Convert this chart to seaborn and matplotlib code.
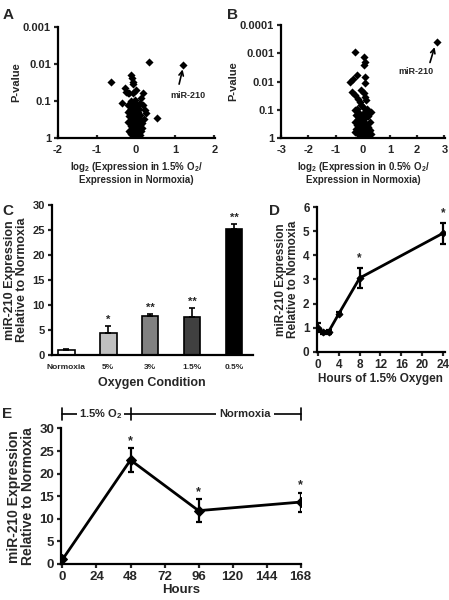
import matplotlib
matplotlib.use('Agg')
import matplotlib.pyplot as plt
import seaborn as sns
import pandas as pd

# ---------------- data ----------------
# Panel A: log2 ratio (1.5% O2 / normoxia) and p-value per miRNA
a_log2 = [1.21, 0.33, -0.63, -0.12, -0.11, -0.08, -0.07, -0.29, -0.25, -0.20,
          -0.17, -0.08, 0.00, 0.17, 0.13, -0.35, -0.21, -0.08, -0.04, 0.17,
          0.22, 0.26, 0.53, -0.12, -0.05, 0.02, 0.08, -0.15, -0.02, 0.05,
          -0.10, 0.10, -0.18, 0.00, -0.06, 0.06, -0.13, 0.12, -0.02, -0.20,
          0.04, -0.08, 0.09, -0.14, 0.00, -0.04, 0.14, -0.10, 0.05, -0.17,
          -0.02, 0.08, -0.07, 0.02, -0.12, 0.11, -0.03, 0.04, -0.08, 0.00,
          0.06, -0.05, 0.15, 0.20, -0.22, 0.10, -0.12, 0.00, -0.06, 0.02,
          -0.15, 0.12]
a_pval = [0.0105, 0.0087, 0.031, 0.020, 0.024, 0.030, 0.034, 0.045, 0.056, 0.060,
          0.062, 0.060, 0.050, 0.062, 0.081, 0.115, 0.129, 0.115, 0.093, 0.129,
          0.17, 0.21, 0.29, 0.14, 0.15, 0.13, 0.16, 0.18, 0.19, 0.20,
          0.22, 0.24, 0.25, 0.26, 0.28, 0.30, 0.32, 0.33, 0.35, 0.37,
          0.39, 0.42, 0.44, 0.47, 0.50, 0.52, 0.55, 0.58, 0.60, 0.63,
          0.66, 0.70, 0.74, 0.78, 0.80, 0.84, 0.88, 0.92, 0.95, 0.98,
          0.97, 0.85, 0.40, 0.30, 0.20, 0.11, 0.10, 0.23, 0.40, 0.55,
          0.70, 0.65]

# Panel B: log2 ratio (0.5% O2 / normoxia) and p-value per miRNA
b_log2 = [2.73, -0.29, 0.05, 0.07, 0.03, -0.21, -0.35, -0.48, 0.10, 0.08,
          -0.05, -0.41, -0.29, -0.16, 0.13, -0.05, 0.32, 0.27, 0.05, 0.08,
          -0.10, 0.00, -0.20, 0.15, -0.30, 0.10, -0.12, 0.02, -0.25, 0.20,
          -0.05, 0.08, -0.18, 0.00, 0.25, -0.30, -0.08, 0.12, -0.20, 0.04,
          -0.12, 0.18, -0.02, -0.25, 0.10, -0.10, 0.05, -0.18, 0.15, 0.00,
          -0.08, 0.20, -0.15, 0.06, -0.03, 0.12, -0.10, 0.02, 0.30, -0.28,
          0.22, -0.05, 0.08]
b_pval = [0.00039, 0.00088, 0.0013, 0.0020, 0.0026, 0.0059, 0.0078, 0.0102, 0.0068, 0.0115,
          0.020, 0.023, 0.030, 0.040, 0.045, 0.068, 0.117, 0.52, 0.025, 0.035,
          0.055, 0.080, 0.090, 0.095, 0.10, 0.12, 0.13, 0.14, 0.15, 0.17,
          0.18, 0.20, 0.22, 0.24, 0.26, 0.28, 0.30, 0.32, 0.35, 0.37,
          0.40, 0.42, 0.45, 0.48, 0.50, 0.55, 0.58, 0.62, 0.65, 0.68,
          0.72, 0.75, 0.78, 0.80, 0.85, 0.88, 0.90, 0.95, 0.70, 0.60,
          0.55, 0.98, 0.98]

# Panel C: miR-210 by oxygen condition
c_cond = ['Normoxia', '5%', '3%', '1.5%', '0.5%']
c_mean = [1.0, 4.4, 7.9, 7.7, 25.3]
c_err = [0.3, 1.5, 0.3, 1.7, 0.9]
c_star = ['', '*', '**', '**', '**']
c_colors = ['white', '#c0c0c0', '#808080', '#404040', 'black']

# Panel D: time course in 1.5% O2
d_hours = [0, 1, 2, 4, 8, 24]
d_mean = [1.0, 0.8, 0.82, 1.58, 3.06, 4.92]
d_err = [0.2, 0.05, 0.08, 0.05, 0.42, 0.44]
d_star = ['', '', '', '', '*', '*']

# Panel E: 48 h 1.5% O2 then return to normoxia
e_hours = [0, 48, 96, 168]
e_mean = [1.0, 23.0, 11.8, 13.7]
e_err = [0.3, 2.6, 2.5, 2.1]
e_star = ['', '*', '*', '*']

# ---------------- style ----------------
sns.set_style('ticks')
plt.rcParams['font.family'] = ['Liberation Sans', 'DejaVu Sans']
plt.rcParams['font.weight'] = 'bold'
plt.rcParams['axes.labelweight'] = 'bold'
plt.rcParams['mathtext.fontset'] = 'custom'
plt.rcParams['mathtext.bf'] = 'Liberation Sans:bold'
plt.rcParams['mathtext.rm'] = 'Liberation Sans:bold'
plt.rcParams['mathtext.default'] = 'bf'
plt.rcParams['axes.linewidth'] = 1.6
plt.rcParams['xtick.major.width'] = 1.6
plt.rcParams['ytick.major.width'] = 1.6

fig = plt.figure(figsize=(4.49, 6), dpi=100)


def clean(ax):
    sns.despine(ax=ax)
    ax.spines['left'].set_color('black')
    ax.spines['bottom'].set_color('black')


def volcano(ax, x, p, xlim, xticks, ylim, yticks, xlabel, arrow, label_xy):
    df = pd.DataFrame({'x': x, 'p': p})
    sns.scatterplot(data=df, x='x', y='p', marker='D', s=17, color='black',
                    edgecolor='black', linewidth=0, ax=ax, legend=False, zorder=3)
    ax.set_yscale('log')
    ax.set_ylim(*ylim)
    ax.set_xlim(*xlim)
    ax.set_xticks(xticks)
    ax.set_xticklabels([str(t) for t in xticks], fontsize=8)
    ax.set_yticks(yticks)
    ax.minorticks_off()
    ax.tick_params(axis='x', direction='in', length=2.5, pad=5)
    ax.tick_params(axis='y', direction='out', length=3, pad=2)
    ax.set_xlabel(xlabel, fontsize=7, linespacing=1.1)
    ax.set_ylabel('P-value', fontsize=8, labelpad=1)
    ax.annotate('', xy=arrow[0], xytext=arrow[1],
                arrowprops=dict(arrowstyle='->', color='black', lw=1.2,
                                shrinkA=0, shrinkB=0, mutation_scale=8))
    ax.text(label_xy[0], label_xy[1], 'miR-210', fontsize=6.5, ha='center', va='center')
    clean(ax)


# Panel A
axA = fig.add_axes([0.129, 0.77, 0.350, 0.185])
volcano(axA, a_log2, a_pval, (-2, 2.02), [-2, -1, 0, 1, 2], (1, 0.001),
        [1, 0.1, 0.01, 0.001],
        'log$_2$ (Expression in 1.5% O$_2$/\nExpression in Normoxia)',
        ((1.19, 0.014), (1.10, 0.035)), (1.32, 0.07))
axA.set_yticklabels(['1', '0.1', '0.01', '0.001'], fontsize=8)

# Panel B
axB = fig.add_axes([0.626, 0.77, 0.365, 0.188])
volcano(axB, b_log2, b_pval, (-3, 3.02), [-3, -2, -1, 0, 1, 2, 3], (1, 0.0001),
        [1, 0.1, 0.01, 0.001, 0.0001],
        'log$_2$ (Expression in 0.5% O$_2$/\nExpression in Normoxia)',
        ((2.64, 0.0006), (2.47, 0.0021)), (1.97, 0.0045))
axB.set_yticklabels(['1', '0.1', '0.01', '0.001', '0.0001'], fontsize=8)

# Panel C
axC = fig.add_axes([0.115, 0.408, 0.448, 0.25])
dfc = pd.DataFrame({'cond': c_cond, 'mean': c_mean})
sns.barplot(data=dfc, x='cond', y='mean', hue='cond', palette=c_colors,
            width=0.4, edgecolor='black', linewidth=1.2, legend=False, ax=axC)
axC.errorbar(range(len(c_cond)), c_mean, yerr=[[0] * len(c_err), c_err],
             fmt='none', ecolor='black', elinewidth=1.2, capsize=2.5, capthick=1.2)
for i, s in enumerate(c_star):
    axC.text(i, c_mean[i] + c_err[i] + 0.2, s, ha='center', va='bottom', fontsize=8)
axC.set_ylim(0, 30)
axC.set_yticks(range(0, 31, 5))
axC.set_xlim(-0.35, 4.45)
axC.tick_params(axis='y', labelsize=8, direction='out', length=3, pad=2)
axC.tick_params(axis='x', labelsize=6, length=0, pad=6)
axC.set_xlabel('Oxygen Condition', fontsize=9, labelpad=5)
axC.set_ylabel('miR-210 Expression\nRelative to Normoxia', fontsize=9, labelpad=3, linespacing=1.0)
clean(axC)

# Panel D
axD = fig.add_axes([0.705, 0.414, 0.286, 0.2405])
dfd = pd.DataFrame({'h': d_hours, 'm': d_mean})
sns.lineplot(data=dfd, x='h', y='m', color='black', lw=2, marker='D', markersize=3.5,
             markeredgecolor='black', ax=axD)
axD.errorbar(d_hours, d_mean, yerr=d_err, fmt='none', ecolor='black',
             elinewidth=1.6, capsize=2, capthick=1.6)
for h, m, e, s in zip(d_hours, d_mean, d_err, d_star):
    axD.text(h, m + e + 0.15, s, ha='center', va='bottom', fontsize=8.5)
axD.set_xlim(-0.3, 24.4)
axD.set_ylim(0, 6)
axD.set_xticks(range(0, 25, 4))
axD.set_yticks(range(0, 7))
axD.tick_params(axis='both', labelsize=8.5, direction='out', length=3, pad=2)
axD.set_xlabel('Hours of 1.5% Oxygen', fontsize=8.5, labelpad=2)
axD.set_ylabel('miR-210 Expression\nRelative to Normoxia', fontsize=8.5, labelpad=3, linespacing=1.0)
clean(axD)

# Panel E
axE = fig.add_axes([0.136, 0.06, 0.535, 0.226])
dfe = pd.DataFrame({'h': e_hours, 'm': e_mean})
sns.lineplot(data=dfe, x='h', y='m', color='black', lw=2, marker='D', markersize=5,
             markeredgecolor='black', ax=axE)
axE.errorbar(e_hours, e_mean, yerr=e_err, fmt='none', ecolor='black',
             elinewidth=1.6, capsize=2.5, capthick=1.6)
for h, m, e, s in zip(e_hours, e_mean, e_err, e_star):
    axE.text(h, m + e + 0.3, s, ha='center', va='bottom', fontsize=9)
axE.set_xlim(-1, 168.5)
axE.set_ylim(0, 30)
axE.set_xticks(range(0, 169, 24))
axE.set_yticks(range(0, 31, 5))
axE.tick_params(axis='both', labelsize=9.5, direction='out', length=3, pad=2)
axE.set_xlabel('Hours', fontsize=9.5, labelpad=1)
axE.set_ylabel('miR-210 Expression\nRelative to Normoxia', fontsize=10, labelpad=3, linespacing=1.0)
clean(axE)

# treatment bracket above panel E
yb = 33.2
axE.plot([0, 168], [yb, yb], color='black', lw=1.2, clip_on=False)
for t in [0, 48, 168]:
    axE.plot([t, t], [yb - 1.4, yb + 1.4], color='black', lw=1.2, clip_on=False)
axE.text(27, yb, '1.5% O$_2$', ha='center', va='center', fontsize=8,
         bbox=dict(facecolor='white', edgecolor='none', pad=1.5), clip_on=False)
axE.text(129, yb, 'Normoxia', ha='center', va='center', fontsize=8,
         bbox=dict(facecolor='white', edgecolor='none', pad=2.5), clip_on=False)

# panel letters
for lbl, x, y in [('A', 0.005, 0.975), ('B', 0.505, 0.975), ('C', 0.005, 0.648),
                  ('D', 0.6, 0.648), ('E', 0.005, 0.31)]:
    fig.text(x, y, lbl, fontsize=11, fontweight='bold', va='center')

fig.savefig('out.png', dpi=100)
